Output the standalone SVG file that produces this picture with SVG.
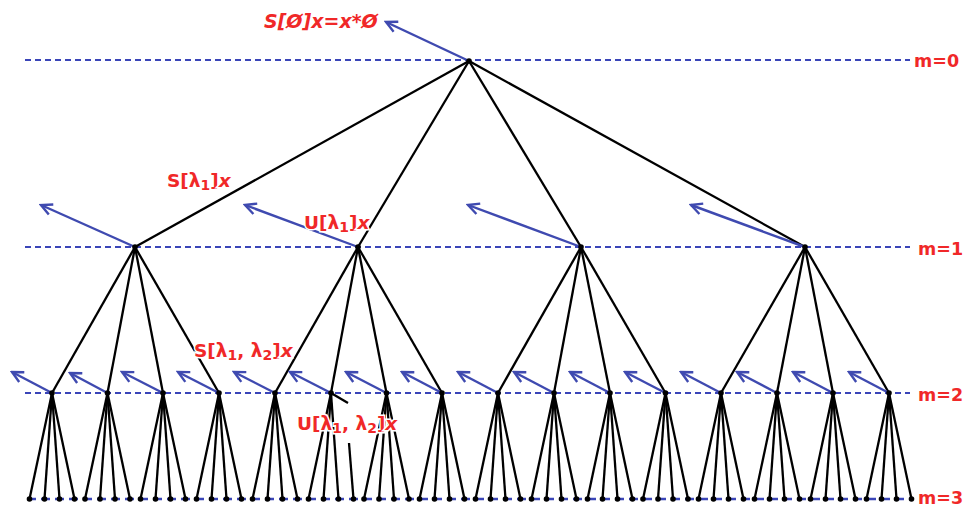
<svg xmlns="http://www.w3.org/2000/svg" xmlns:xlink="http://www.w3.org/1999/xlink" width="964" height="508" viewBox="0 0 964 508">
<style>
.lvl{stroke:#3a45b8;stroke-width:1.8;stroke-dasharray:6 4;fill:none}
.lvl3{stroke:#3a45b8;stroke-width:2.4;stroke-dasharray:9 5;fill:none}
.e line{stroke:#000;stroke-width:2.3}
.ar line{stroke:#3f4ab0;stroke-width:2.4;marker-end:url(#ah)}
.lab{font-family:"DejaVu Sans",Verdana,sans-serif;font-weight:bold;fill:#f02828;font-size:18.5px;paint-order:stroke;stroke:#fff;stroke-width:3px}
.m{font-family:"DejaVu Sans",Verdana,sans-serif;font-weight:bold;fill:#f02828;font-size:17.5px}
.it{font-style:italic}
.sub{font-size:14px}
</style>
<defs>
<marker id="ah" viewBox="0 0 14 14" refX="12" refY="7" markerWidth="14" markerHeight="14" markerUnits="userSpaceOnUse" orient="auto">
<path d="M1,1.5 L12,7 L1,12.5" fill="none" stroke="#3f4ab0" stroke-width="2.4"/>
</marker>
<circle id="dot" r="2.8" fill="#000"/>
</defs>
<rect width="964" height="508" fill="#fff"/>
<g id="levels">
<line class="lvl" x1="25" y1="60" x2="910" y2="60"/>
<line class="lvl" x1="25" y1="247" x2="910" y2="247"/>
<line class="lvl" x1="25" y1="393" x2="910" y2="393"/>
<line class="lvl3" x1="27" y1="499" x2="912" y2="499"/>
<text class="m" x="914" y="67">m=0</text>
<text class="m" x="918" y="255">m=1</text>
<text class="m" x="918" y="401">m=2</text>
<text class="m" x="918" y="504">m=3</text>
</g>
<g id="connectors">
<g class="e">
<line x1="469" y1="61" x2="135" y2="247"/><line x1="469" y1="61" x2="358" y2="247"/><line x1="469" y1="61" x2="581" y2="247"/><line x1="469" y1="61" x2="805" y2="247"/>
<line x1="135" y1="247" x2="52" y2="393"/><line x1="135" y1="247" x2="107.5" y2="393"/><line x1="135" y1="247" x2="163" y2="393"/><line x1="135" y1="247" x2="219" y2="393"/>
<line x1="358" y1="247" x2="275" y2="393"/><line x1="358" y1="247" x2="331" y2="393"/><line x1="358" y1="247" x2="386.5" y2="393"/><line x1="358" y1="247" x2="442" y2="393"/>
<line x1="581" y1="247" x2="498" y2="393"/><line x1="581" y1="247" x2="554" y2="393"/><line x1="581" y1="247" x2="610" y2="393"/><line x1="581" y1="247" x2="665.5" y2="393"/>
<line x1="805" y1="247" x2="721" y2="393"/><line x1="805" y1="247" x2="777" y2="393"/><line x1="805" y1="247" x2="833" y2="393"/><line x1="805" y1="247" x2="889" y2="393"/>
<line x1="52" y1="393" x2="29.5" y2="499"/><line x1="52" y1="393" x2="44.5" y2="499"/><line x1="52" y1="393" x2="59.5" y2="499"/><line x1="52" y1="393" x2="74.5" y2="499"/>
<line x1="107.5" y1="393" x2="85" y2="499"/><line x1="107.5" y1="393" x2="100" y2="499"/><line x1="107.5" y1="393" x2="115" y2="499"/><line x1="107.5" y1="393" x2="130" y2="499"/>
<line x1="163" y1="393" x2="140.5" y2="499"/><line x1="163" y1="393" x2="155.5" y2="499"/><line x1="163" y1="393" x2="170.5" y2="499"/><line x1="163" y1="393" x2="185.5" y2="499"/>
<line x1="219" y1="393" x2="196.5" y2="499"/><line x1="219" y1="393" x2="211.5" y2="499"/><line x1="219" y1="393" x2="226.5" y2="499"/><line x1="219" y1="393" x2="241.5" y2="499"/>
<line x1="275" y1="393" x2="252.5" y2="499"/><line x1="275" y1="393" x2="267.5" y2="499"/><line x1="275" y1="393" x2="282.5" y2="499"/><line x1="275" y1="393" x2="297.5" y2="499"/>
<line x1="331" y1="393" x2="308.5" y2="499"/><line x1="331" y1="393" x2="323.5" y2="499"/><line x1="331" y1="393" x2="338.5" y2="499"/><line x1="331" y1="393" x2="348" y2="403"/><line x1="349" y1="443" x2="353.5" y2="499"/>
<line x1="386.5" y1="393" x2="364" y2="499"/><line x1="386.5" y1="393" x2="379" y2="499"/><line x1="386.5" y1="393" x2="394" y2="499"/><line x1="386.5" y1="393" x2="409" y2="499"/>
<line x1="442" y1="393" x2="419.5" y2="499"/><line x1="442" y1="393" x2="434.5" y2="499"/><line x1="442" y1="393" x2="449.5" y2="499"/><line x1="442" y1="393" x2="464.5" y2="499"/>
<line x1="498" y1="393" x2="475.5" y2="499"/><line x1="498" y1="393" x2="490.5" y2="499"/><line x1="498" y1="393" x2="505.5" y2="499"/><line x1="498" y1="393" x2="520.5" y2="499"/>
<line x1="554" y1="393" x2="531.5" y2="499"/><line x1="554" y1="393" x2="546.5" y2="499"/><line x1="554" y1="393" x2="561.5" y2="499"/><line x1="554" y1="393" x2="576.5" y2="499"/>
<line x1="610" y1="393" x2="587.5" y2="499"/><line x1="610" y1="393" x2="602.5" y2="499"/><line x1="610" y1="393" x2="617.5" y2="499"/><line x1="610" y1="393" x2="632.5" y2="499"/>
<line x1="665.5" y1="393" x2="643" y2="499"/><line x1="665.5" y1="393" x2="658" y2="499"/><line x1="665.5" y1="393" x2="673" y2="499"/><line x1="665.5" y1="393" x2="688" y2="499"/>
<line x1="721" y1="393" x2="698.5" y2="499"/><line x1="721" y1="393" x2="713.5" y2="499"/><line x1="721" y1="393" x2="728.5" y2="499"/><line x1="721" y1="393" x2="743.5" y2="499"/>
<line x1="777" y1="393" x2="754.5" y2="499"/><line x1="777" y1="393" x2="769.5" y2="499"/><line x1="777" y1="393" x2="784.5" y2="499"/><line x1="777" y1="393" x2="799.5" y2="499"/>
<line x1="833" y1="393" x2="810.5" y2="499"/><line x1="833" y1="393" x2="825.5" y2="499"/><line x1="833" y1="393" x2="840.5" y2="499"/><line x1="833" y1="393" x2="855.5" y2="499"/>
<line x1="889" y1="393" x2="866.5" y2="499"/><line x1="889" y1="393" x2="881.5" y2="499"/><line x1="889" y1="393" x2="896.5" y2="499"/><line x1="889" y1="393" x2="911.5" y2="499"/>
</g>
<g class="ar">
<line x1="469" y1="61" x2="386" y2="22"/>
<line x1="135" y1="247" x2="41" y2="205"/>
<line x1="358" y1="247" x2="245" y2="205"/>
<line x1="581" y1="247" x2="468" y2="205"/>
<line x1="805" y1="247" x2="691" y2="205"/>
<line x1="52" y1="393" x2="12" y2="372"/>
<line x1="107.5" y1="393" x2="70" y2="373"/>
<line x1="163" y1="393" x2="122" y2="372"/>
<line x1="219" y1="393" x2="178" y2="372"/>
<line x1="275" y1="393" x2="234" y2="372"/>
<line x1="331" y1="393" x2="290" y2="372"/>
<line x1="386.5" y1="393" x2="346" y2="372"/>
<line x1="442" y1="393" x2="402" y2="372"/>
<line x1="498" y1="393" x2="458" y2="372"/>
<line x1="554" y1="393" x2="514" y2="372"/>
<line x1="610" y1="393" x2="570" y2="372"/>
<line x1="665.5" y1="393" x2="625" y2="372"/>
<line x1="721" y1="393" x2="681" y2="372"/>
<line x1="777" y1="393" x2="737" y2="372"/>
<line x1="833" y1="393" x2="793" y2="372"/>
<line x1="889" y1="393" x2="849" y2="372"/>
</g>
</g>
<g id="root"><use xlink:href="#dot" x="469" y="61"/></g>
<g id="n1_0"><use xlink:href="#dot" x="135" y="247"/></g>
<g id="n1_1"><use xlink:href="#dot" x="358" y="247"/></g>
<g id="n1_2"><use xlink:href="#dot" x="581" y="247"/></g>
<g id="n1_3"><use xlink:href="#dot" x="805" y="247"/></g>
<g id="n2_0"><use xlink:href="#dot" x="52" y="393"/></g>
<g id="n2_1"><use xlink:href="#dot" x="107.5" y="393"/></g>
<g id="n2_2"><use xlink:href="#dot" x="163" y="393"/></g>
<g id="n2_3"><use xlink:href="#dot" x="219" y="393"/></g>
<g id="n2_4"><use xlink:href="#dot" x="275" y="393"/></g>
<g id="n2_5"><use xlink:href="#dot" x="331" y="393"/></g>
<g id="n2_6"><use xlink:href="#dot" x="386.5" y="393"/></g>
<g id="n2_7"><use xlink:href="#dot" x="442" y="393"/></g>
<g id="n2_8"><use xlink:href="#dot" x="498" y="393"/></g>
<g id="n2_9"><use xlink:href="#dot" x="554" y="393"/></g>
<g id="n2_10"><use xlink:href="#dot" x="610" y="393"/></g>
<g id="n2_11"><use xlink:href="#dot" x="665.5" y="393"/></g>
<g id="n2_12"><use xlink:href="#dot" x="721" y="393"/></g>
<g id="n2_13"><use xlink:href="#dot" x="777" y="393"/></g>
<g id="n2_14"><use xlink:href="#dot" x="833" y="393"/></g>
<g id="n2_15"><use xlink:href="#dot" x="889" y="393"/></g>
<g id="leaves">
<g id="n3_0"><use xlink:href="#dot" x="29.5" y="499"/><use xlink:href="#dot" x="44.5" y="499"/><use xlink:href="#dot" x="59.5" y="499"/><use xlink:href="#dot" x="74.5" y="499"/></g>
<g id="n3_1"><use xlink:href="#dot" x="85" y="499"/><use xlink:href="#dot" x="100" y="499"/><use xlink:href="#dot" x="115" y="499"/><use xlink:href="#dot" x="130" y="499"/></g>
<g id="n3_2"><use xlink:href="#dot" x="140.5" y="499"/><use xlink:href="#dot" x="155.5" y="499"/><use xlink:href="#dot" x="170.5" y="499"/><use xlink:href="#dot" x="185.5" y="499"/></g>
<g id="n3_3"><use xlink:href="#dot" x="196.5" y="499"/><use xlink:href="#dot" x="211.5" y="499"/><use xlink:href="#dot" x="226.5" y="499"/><use xlink:href="#dot" x="241.5" y="499"/></g>
<g id="n3_4"><use xlink:href="#dot" x="252.5" y="499"/><use xlink:href="#dot" x="267.5" y="499"/><use xlink:href="#dot" x="282.5" y="499"/><use xlink:href="#dot" x="297.5" y="499"/></g>
<g id="n3_5"><use xlink:href="#dot" x="308.5" y="499"/><use xlink:href="#dot" x="323.5" y="499"/><use xlink:href="#dot" x="338.5" y="499"/><use xlink:href="#dot" x="353.5" y="499"/></g>
<g id="n3_6"><use xlink:href="#dot" x="364" y="499"/><use xlink:href="#dot" x="379" y="499"/><use xlink:href="#dot" x="394" y="499"/><use xlink:href="#dot" x="409" y="499"/></g>
<g id="n3_7"><use xlink:href="#dot" x="419.5" y="499"/><use xlink:href="#dot" x="434.5" y="499"/><use xlink:href="#dot" x="449.5" y="499"/><use xlink:href="#dot" x="464.5" y="499"/></g>
<g id="n3_8"><use xlink:href="#dot" x="475.5" y="499"/><use xlink:href="#dot" x="490.5" y="499"/><use xlink:href="#dot" x="505.5" y="499"/><use xlink:href="#dot" x="520.5" y="499"/></g>
<g id="n3_9"><use xlink:href="#dot" x="531.5" y="499"/><use xlink:href="#dot" x="546.5" y="499"/><use xlink:href="#dot" x="561.5" y="499"/><use xlink:href="#dot" x="576.5" y="499"/></g>
<g id="n3_10"><use xlink:href="#dot" x="587.5" y="499"/><use xlink:href="#dot" x="602.5" y="499"/><use xlink:href="#dot" x="617.5" y="499"/><use xlink:href="#dot" x="632.5" y="499"/></g>
<g id="n3_11"><use xlink:href="#dot" x="643" y="499"/><use xlink:href="#dot" x="658" y="499"/><use xlink:href="#dot" x="673" y="499"/><use xlink:href="#dot" x="688" y="499"/></g>
<g id="n3_12"><use xlink:href="#dot" x="698.5" y="499"/><use xlink:href="#dot" x="713.5" y="499"/><use xlink:href="#dot" x="728.5" y="499"/><use xlink:href="#dot" x="743.5" y="499"/></g>
<g id="n3_13"><use xlink:href="#dot" x="754.5" y="499"/><use xlink:href="#dot" x="769.5" y="499"/><use xlink:href="#dot" x="784.5" y="499"/><use xlink:href="#dot" x="799.5" y="499"/></g>
<g id="n3_14"><use xlink:href="#dot" x="810.5" y="499"/><use xlink:href="#dot" x="825.5" y="499"/><use xlink:href="#dot" x="840.5" y="499"/><use xlink:href="#dot" x="855.5" y="499"/></g>
<g id="n3_15"><use xlink:href="#dot" x="866.5" y="499"/><use xlink:href="#dot" x="881.5" y="499"/><use xlink:href="#dot" x="896.5" y="499"/><use xlink:href="#dot" x="911.5" y="499"/></g>
</g>
<g id="labels">
<text class="lab it" x="264" y="28" style="font-size:19px">S[Ø]x=x*Ø</text>
<text class="lab" x="167" y="187">S[λ<tspan class="sub" dy="3">1</tspan><tspan dy="-3">]</tspan><tspan class="it">x</tspan></text>
<text class="lab" x="304" y="229">U[λ<tspan class="sub" dy="3">1</tspan><tspan dy="-3">]</tspan><tspan class="it">x</tspan></text>
<text class="lab" x="194" y="357">S[λ<tspan class="sub" dy="3">1</tspan><tspan dy="-3">, λ</tspan><tspan class="sub" dy="3">2</tspan><tspan dy="-3">]</tspan><tspan class="it">x</tspan></text>
<text class="lab" x="297" y="430">U[λ<tspan class="sub" dy="3">1</tspan><tspan dy="-3">, λ</tspan><tspan class="sub" dy="3">2</tspan><tspan dy="-3">]</tspan><tspan class="it">x</tspan></text>
</g>
</svg>
